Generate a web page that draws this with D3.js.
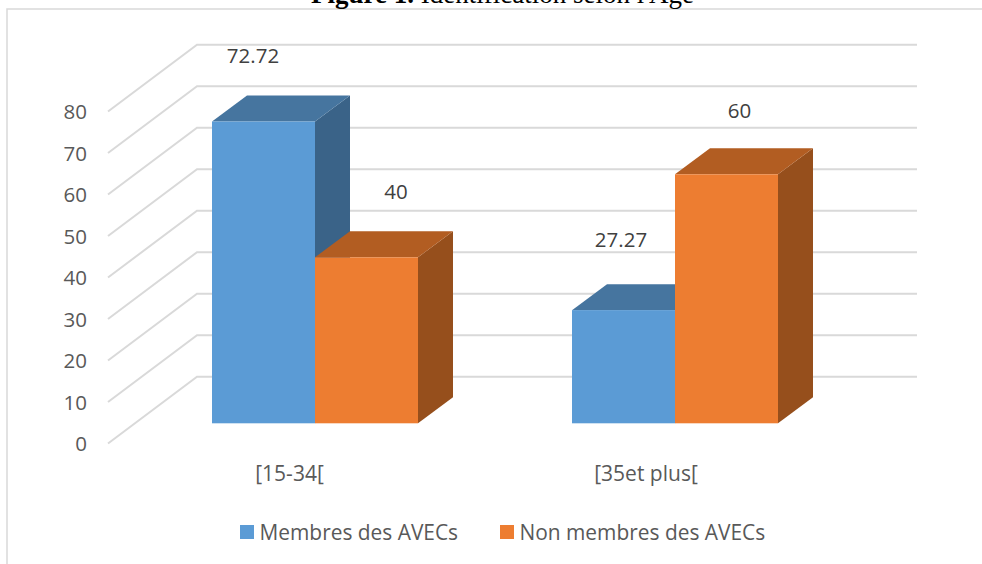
<!DOCTYPE html>
<html>
<head>
<meta charset="utf-8">
<script src="https://cdn.jsdelivr.net/npm/d3@7"></script>
<style>
    html, body { margin: 0; padding: 0; background: #fff; }
    svg { display: block; }
</style>
</head>
<body>
<div id="chart"></div>
<script>
const categories = ["[15-34[", "[35et plus["];
const seriesNames = ["Membres des AVECs", "Non membres des AVECs"];
const membres = [72.72, 27.27];
const nonMembres = [40, 60];
const yTicks = [0, 10, 20, 30, 40, 50, 60, 70, 80];

function drawChart() {
    const width = 982;
    const height = 564;
    const labelFont = "Open Sans, 'Noto Sans', sans-serif";

    const svg = d3.select("#chart")
        .append("svg")
        .attr("width", width)
        .attr("height", height);

    // chart frame
    svg.append("path")
        .attr("d", "M7,564V9H982")
        .attr("fill", "none")
        .attr("stroke", "#d9d9d9")
        .attr("stroke-width", 1.5);

    // title, cut by the top of the image
    const title = svg.append("text")
        .attr("x", 502.5)
        .attr("y", 3)
        .attr("text-anchor", "middle")
        .attr("font-family", "Liberation Serif")
        .attr("font-size", 27)
        .attr("fill", "#000");
    title.append("tspan").attr("font-weight", "bold").text("Figure 1.");
    title.append("tspan").text(" Identification selon l'Age");

    // pseudo 3d: the value scale is the same height on the front edge, the back wall and the bars
    const unit = 4.15;
    const yFront = d3.scaleLinear().domain([0, 80]).range([443.5, 443.5 - 80 * unit]);
    const yBack = d3.scaleLinear().domain([0, 80]).range([376.7, 376.7 - 80 * unit]);
    const yBar = d3.scaleLinear().domain([0, 80]).range([423.3, 423.3 - 80 * unit]);

    const x0 = d3.scaleBand().domain(categories).range([135, 855]);
    const x1 = d3.scaleBand().domain([0, 1]).range([77, 283]);
    const barW = x1.bandwidth();
    const depthX = 35;
    const depthY = 26;

    // gridlines
    const grid = svg.append("g").attr("fill", "none").attr("stroke", "#d9d9d9").attr("stroke-width", 2);
    grid.selectAll("path")
        .data(yTicks)
        .join("path")
        .attr("d", d => "M108," + yFront(d) + "L197," + yBack(d) + "H917");

    // y labels
    svg.append("g")
        .selectAll("text")
        .data(yTicks)
        .join("text")
        .attr("x", 87)
        .attr("y", d => yFront(d) + 0.5)
        .attr("dy", "0.36em")
        .attr("text-anchor", "end")
        .attr("font-family", labelFont)
        .attr("font-size", 20.5)
        .attr("fill", "#595959")
        .text(d => d);

    const series = [
        { name: seriesNames[0], values: membres, front: "#5b9bd5", top: "#46759f", side: "#3a6388" },
        { name: seriesNames[1], values: nonMembres, front: "#ed7d31", top: "#b25d22", side: "#964f1c" }
    ];

    const bars = [];
    categories.forEach(function (cat, i) {
        series.forEach(function (s, j) {
            bars.push({ cat: cat, s: s, j: j, value: s.values[i] });
        });
    });

    function xLeft(d) {
        return x0(d.cat) + x1(d.j);
    }

    const barG = svg.append("g")
        .selectAll("g")
        .data(bars)
        .join("g");

    // side
    barG.append("path")
        .attr("fill", d => d.s.side)
        .attr("d", function (d) {
            const r = xLeft(d) + barW, t = yBar(d.value), b = yBar(0);
            return "M" + r + "," + t + "l" + depthX + "," + (-depthY) + "V" + (b - depthY) + "L" + r + "," + b + "Z";
        });
    // top
    barG.append("path")
        .attr("fill", d => d.s.top)
        .attr("d", function (d) {
            const l = xLeft(d), t = yBar(d.value);
            return "M" + l + "," + t + "l" + depthX + "," + (-depthY) + "h" + barW + "l" + (-depthX) + "," + depthY + "Z";
        });
    // front
    barG.append("rect")
        .attr("fill", d => d.s.front)
        .attr("x", d => xLeft(d))
        .attr("y", d => yBar(d.value))
        .attr("width", barW)
        .attr("height", d => yBar(0) - yBar(d.value));

    // data labels
    const labelPos = [[253, 55.5], [396, 191.5], [621, 240], [739.5, 110.5]];
    svg.append("g")
        .selectAll("text")
        .data(bars)
        .join("text")
        .attr("x", (d, i) => labelPos[i][0])
        .attr("y", (d, i) => labelPos[i][1])
        .attr("dy", "0.36em")
        .attr("text-anchor", "middle")
        .attr("font-family", labelFont)
        .attr("font-size", 20.5)
        .attr("fill", "#404040")
        .text(d => d.value);

    // category labels
    const catX = [289.5, 646];
    svg.append("g")
        .selectAll("text")
        .data(categories)
        .join("text")
        .attr("x", (d, i) => catX[i])
        .attr("y", 473)
        .attr("dy", "0.36em")
        .attr("text-anchor", "middle")
        .attr("font-family", labelFont)
        .attr("font-size", 21)
        .attr("fill", "#595959")
        .text(d => d);

    // legend
    const legX = [240, 500];
    const legend = svg.append("g")
        .selectAll("g")
        .data(series)
        .join("g")
        .attr("transform", (d, i) => "translate(" + legX[i] + ",525)");
    legend.append("rect")
        .attr("width", 14)
        .attr("height", 14)
        .attr("fill", d => d.front);
    legend.append("text")
        .attr("x", 19.5)
        .attr("y", 7)
        .attr("dy", "0.36em")
        .attr("font-family", labelFont)
        .attr("font-size", 20.9)
        .attr("fill", "#595959")
        .text(d => d.name);
}

drawChart();
</script>
</body>
</html>
